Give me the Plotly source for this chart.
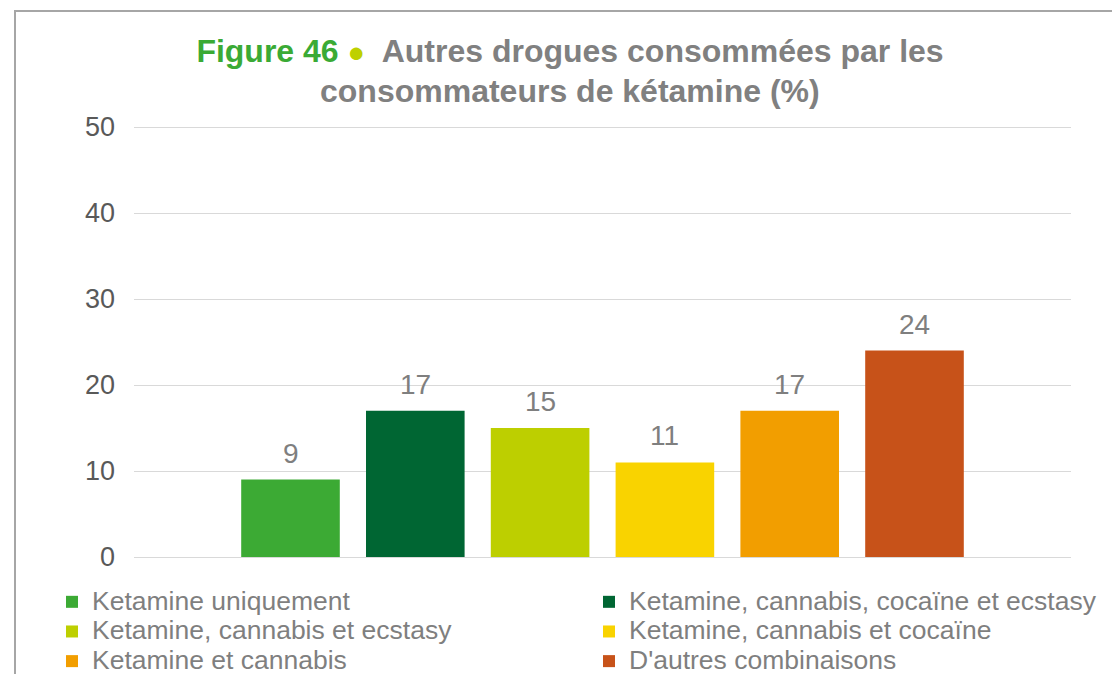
import plotly.graph_objects as go

# Données : part (%) de chaque combinaison de drogues chez les consommateurs de kétamine
series_names = [
    "Ketamine uniquement",
    "Ketamine, cannabis, cocaïne et ecstasy",
    "Ketamine, cannabis et ecstasy",
    "Ketamine, cannabis et cocaïne",
    "Ketamine et cannabis",
    "D'autres combinaisons",
]
series_values = [9, 17, 15, 11, 17, 24]
series_colors = ["#3caa34", "#006633", "#bdcf00", "#f9d300", "#f29e00", "#c75219"]
y_ticks = [0, 10, 20, 30, 40, 50]
y_max = 50.35  # un peu d'air pour que la ligne de grille à 50 soit tracée

W, H = 1112, 674
M_L, M_R, M_T, M_B = 134, 41, 124, 117
PLOT_W = W - M_L - M_R
PLOT_H = H - M_T - M_B

FONT = "Liberation Sans, Arial, sans-serif"
GREY = "#7f7f7f"
TITLE_GREY = "#808080"


def px_x(px):
    """Horizontal page pixel -> paper fraction."""
    return (px - M_L) / PLOT_W


def px_y(py):
    """Vertical page pixel (from top) -> paper fraction."""
    return (H - M_B - py) / PLOT_H


fig = go.Figure()

for name, val, col in zip(series_names, series_values, series_colors):
    fig.add_trace(go.Bar(
        x=[name], y=[val], name=f'<span style="font-size:26.5px">{name}</span>',
        marker=dict(color=col, line=dict(width=0)),
        width=0.79,
        hoverinfo="skip",
    ))
    # étiquette de valeur au-dessus de la barre
    fig.add_annotation(
        x=name, y=val, xref="x", yref="y",
        text=str(val), showarrow=False,
        yanchor="bottom", yshift=9,
        font=dict(family=FONT, size=28, color=GREY),
    )

title_line1 = (
    '<span style="color:#3aaa35">Figure 46</span> '
    '<span style="color:#bed000;font-size:29px">●</span>  '
    'Autres drogues consommées par les'
)
title_line2 = "consommateurs de kétamine (%)"

# deuxième ligne du titre, interligne plus serré que celui de Plotly
fig.add_annotation(
    x=px_x(570), y=px_y(91), xref="paper", yref="paper",
    xanchor="center", yanchor="middle", showarrow=False,
    text=f"<b>{title_line2}</b>",
    font=dict(family=FONT, size=32, color=TITLE_GREY),
)

fig.update_layout(
    width=W, height=H,
    margin=dict(l=M_L, r=M_R, t=M_T, b=M_B, autoexpand=False),
    paper_bgcolor="white",
    plot_bgcolor="white",
    barmode="overlay",
    font=dict(family=FONT, color=GREY),
    title=dict(
        text=title_line1,
        x=570 / W, xanchor="center", xref="container",
        y=1 - 40 / H, yanchor="top", yref="container",
        font=dict(family=FONT, size=32, color=TITLE_GREY, weight="bold"),
    ),
    xaxis=dict(
        type="category",
        categoryorder="array", categoryarray=series_names,
        range=[-1.254, 6.254],
        showticklabels=False, showgrid=False, zeroline=False,
        showline=False, ticks="",
    ),
    yaxis=dict(
        range=[0, y_max], tickvals=y_ticks,
        showgrid=True, gridcolor="#d9d9d9", gridwidth=1.3,
        zeroline=True, zerolinecolor="#d9d9d9", zerolinewidth=1.3,
        showline=False, ticks="",
        ticklabelstandoff=18,
        tickfont=dict(family=FONT, size=27, color="#595959"),
    ),
    showlegend=True,
    legend=dict(
        orientation="h",
        x=px_x(52), xanchor="left",
        y=px_y(582), yanchor="top",
        entrywidth=492, entrywidthmode="pixels",
        font=dict(family=FONT, size=20.5, color=GREY),
        itemclick=False, itemdoubleclick=False,
        bgcolor="rgba(0,0,0,0)",
        traceorder="normal",
    ),
    shapes=[
        # cadre du graphique (bords haut et gauche)
        dict(
            type="rect", xref="paper", yref="paper",
            x0=px_x(15), x1=px_x(1200), y0=px_y(800), y1=px_y(11),
            line=dict(color="#a6a6a6", width=2),
            fillcolor="rgba(0,0,0,0)", layer="above",
        ),
    ],
)

fig.write_html("out.html")
